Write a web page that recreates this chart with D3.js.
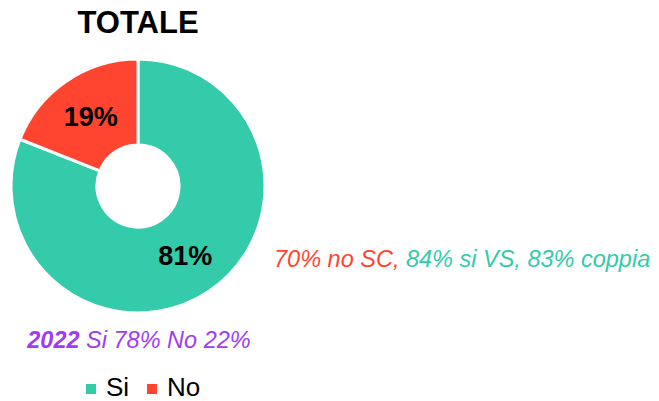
<!DOCTYPE html>
<html>
<head>
<meta charset="utf-8">
<script src="https://cdn.jsdelivr.net/npm/d3@7"></script>
<style>
  body { margin: 0; background: #fff; }
  svg { font-family: "Liberation Sans", Arial, sans-serif; }
</style>
</head>
<body>
<div id="chart"></div>
<script>
// pie data
const categories = ['Si', 'No'];
const values = [81, 19];
const colors = ['#33cbaa', '#ff4530'];

// notes
const title = 'TOTALE';
const notePrev = ['70% no SC, ', '84% si VS, 83% coppia'];
const note2022 = ['2022', ' Si 78% No 22%'];

const width = 659, height = 401;
const cx = 138, cy = 186;
const outerR = 127, innerR = 41;

const svg = d3.select('#chart').append('svg')
  .attr('width', width)
  .attr('height', height);

svg.append('text')
  .attr('x', cx)
  .attr('y', 33)
  .attr('text-anchor', 'middle')
  .attr('font-size', 31)
  .attr('font-weight', 'bold')
  .text(title);

const pie = d3.pie().sort(null).value(d => d.value);
const arc = d3.arc().innerRadius(innerR).outerRadius(outerR);

const data = categories.map((c, i) => ({ name: c, value: values[i] }));
const color = d3.scaleOrdinal().domain(categories).range(colors);

const g = svg.append('g').attr('transform', `translate(${cx},${cy})`);

g.selectAll('path')
  .data(pie(data))
  .join('path')
  .attr('d', arc)
  .attr('fill', d => color(d.data.name))
  .attr('stroke', '#fff')
  .attr('stroke-width', 3);

const labelArc = d3.arc().innerRadius(84).outerRadius(84);
g.selectAll('text.lbl')
  .data(pie(data))
  .join('text')
  .attr('class', 'lbl')
  .attr('transform', d => `translate(${labelArc.centroid(d)})`)
  .attr('dy', '0.36em')
  .attr('text-anchor', 'middle')
  .attr('font-size', 27)
  .attr('font-weight', 'bold')
  .text(d => d.data.value + '%');

// note on the right
const t1 = svg.append('text')
  .attr('x', 274)
  .attr('y', 267)
  .attr('font-size', 23.5)
  .attr('font-style', 'italic');
t1.append('tspan').attr('fill', colors[1]).text(notePrev[0]);
t1.append('tspan').attr('fill', colors[0]).text(notePrev[1]);

// 2022 note
const t2 = svg.append('text')
  .attr('x', 139)
  .attr('y', 348)
  .attr('text-anchor', 'middle')
  .attr('font-size', 23.5)
  .attr('font-style', 'italic')
  .attr('fill', '#a03cf2');
t2.append('tspan').attr('font-weight', 'bold').text(note2022[0]);
t2.append('tspan').text(note2022[1]);

// legend
const legendX = [86, 147];
const leg = svg.append('g')
  .selectAll('g')
  .data(categories)
  .join('g')
  .attr('transform', (d, i) => `translate(${legendX[i]},384)`);

leg.append('rect')
  .attr('width', 10)
  .attr('height', 10)
  .attr('fill', d => color(d));

leg.append('text')
  .attr('x', 20)
  .attr('y', 12)
  .attr('font-size', 26)
  .text(d => d);
</script>
</body>
</html>
